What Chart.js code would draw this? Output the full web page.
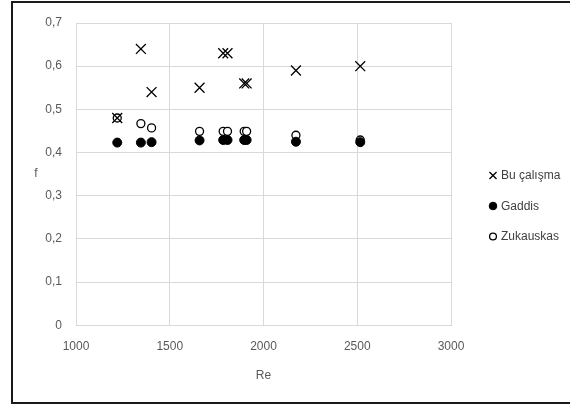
<!DOCTYPE html>
<html>
<head>
<meta charset="utf-8">
<script src="https://cdn.jsdelivr.net/npm/chart.js@4/dist/chart.umd.min.js"></script>
<style>
  body { margin: 0; background: #fff; overflow: hidden; }
  #frame {
    position: absolute; left: 11px; top: 1px;
    width: 600px; height: 403px;
    border: 2px solid #1a1a1a; box-sizing: border-box;
  }
  #chart { position: absolute; left: 0; top: 0; }
</style>
</head>
<body>
<div id="frame"></div>
<canvas id="chart" width="570" height="408"></canvas>
<script>
// data
const reValues = [1220, 1346, 1403, 1659, 1785, 1808, 1897, 1910, 2173, 2516];
const buCalisma = [0.48, 0.64, 0.54, 0.55, 0.63, 0.63, 0.56, 0.56, 0.59, 0.60];
const gaddis = [0.423, 0.423, 0.424, 0.428, 0.429, 0.429, 0.429, 0.429, 0.425, 0.424];
const zukauskas = [0.48, 0.467, 0.457, 0.449, 0.449, 0.449, 0.449, 0.449, 0.44, 0.429];
const seriesNames = ["Bu çalışma", "Gaddis", "Zukauskas"];
const xTicks = [1000, 1500, 2000, 2500, 3000];
const yTicks = [0, 0.1, 0.2, 0.3, 0.4, 0.5, 0.6, 0.7];

const FONT = "'Liberation Sans', Arial, sans-serif";
const GREY = "#595959";
const GRID = "#d9d9d9";

function toPoints(ys) {
  return reValues.map((x, i) => ({ x: x, y: ys[i] }));
}

function fmtComma(v) {
  if (v === 0) return "0";
  return v.toFixed(1).replace(".", ",");
}

// Excel-like right legend and unrotated "f" axis title
const extrasPlugin = {
  id: "extras",
  afterDraw(chart) {
    const ctx = chart.ctx;
    const area = chart.chartArea;
    ctx.save();
    ctx.font = "12px " + FONT;
    ctx.fillStyle = GREY;
    ctx.textAlign = "center";
    ctx.textBaseline = "middle";
    ctx.fillText("f", 36, (area.top + area.bottom) / 2);

    const legendSizes = [5, 3.8, 3.4];
    const midY = 206;
    chart.data.datasets.forEach((ds, i) => {
      const cy = midY + (i - 1) * 30.5;
      const cx = area.right + 42;
      ctx.fillStyle = ds.backgroundColor;
      ctx.strokeStyle = ds.borderColor;
      ctx.lineWidth = ds.borderWidth;
      Chart.helpers.drawPoint(ctx, {
        pointStyle: ds.pointStyle,
        radius: legendSizes[i],
        rotation: 0,
        borderWidth: ds.borderWidth,
      }, cx, cy);
      ctx.fillStyle = "#404040";
      ctx.textAlign = "left";
      ctx.fillText(ds.label, cx + 8, cy + 0.5);
    });
    ctx.restore();
  },
};

new Chart(document.getElementById("chart"), {
  type: "scatter",
  data: {
    datasets: [
      {
        label: seriesNames[0],
        data: toPoints(buCalisma),
        pointStyle: "crossRot",
        pointRadius: 7,
        borderColor: "#000",
        backgroundColor: "#000",
        borderWidth: 1.3,
      },
      {
        label: seriesNames[1],
        data: toPoints(gaddis),
        pointStyle: "circle",
        pointRadius: 4.5,
        borderColor: "#000",
        backgroundColor: "#000",
        borderWidth: 1,
      },
      {
        label: seriesNames[2],
        data: toPoints(zukauskas),
        pointStyle: "circle",
        pointRadius: 4,
        borderColor: "#000",
        backgroundColor: "#fff",
        borderWidth: 1.3,
      },
    ],
  },
  options: {
    responsive: false,
    animation: false,
    layout: { padding: { top: 23, left: 0, right: 119, bottom: 25 } },
    plugins: {
      legend: { display: false },
      tooltip: { enabled: false },
    },
    scales: {
      x: {
        type: "linear",
        min: xTicks[0],
        max: xTicks[xTicks.length - 1],
        afterBuildTicks: (s) => { s.ticks = xTicks.map((v) => ({ value: v })); },
        grid: { color: GRID, drawTicks: false },
        border: { color: GRID },
        ticks: {
          padding: 14,
          color: GREY,
          font: { family: FONT, size: 12 },
          callback: (v) => String(v),
        },
        title: {
          display: true,
          text: "Re",
          color: GREY,
          font: { family: FONT, size: 12 },
          padding: { top: 1, bottom: 0 },
        },
      },
      y: {
        type: "linear",
        min: 0,
        max: 0.7,
        afterBuildTicks: (s) => { s.ticks = yTicks.map((v) => ({ value: v })); },
        afterFit: (s) => { s.width = 76; },
        grid: { color: GRID, drawTicks: false },
        border: { color: GRID },
        ticks: {
          padding: 14,
          color: GREY,
          font: { family: FONT, size: 12 },
          callback: (v) => fmtComma(v),
        },
      },
    },
  },
  plugins: [extrasPlugin],
});
</script>
</body>
</html>
